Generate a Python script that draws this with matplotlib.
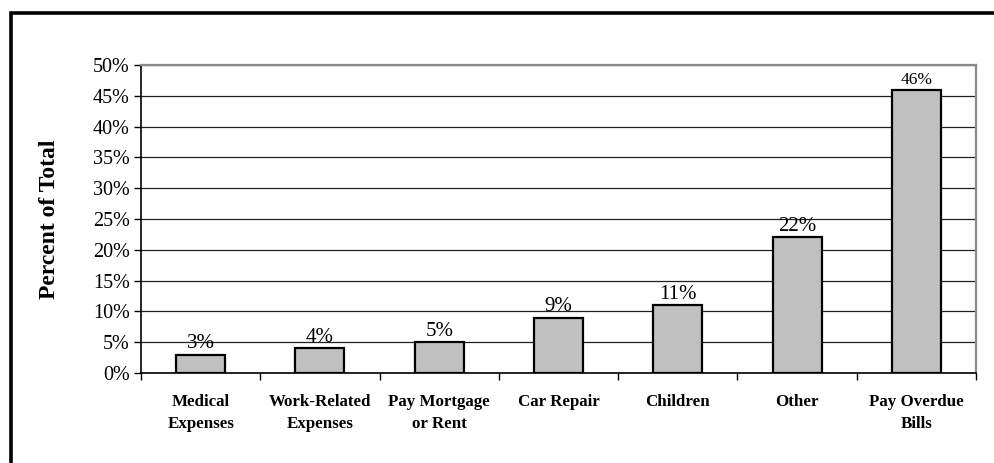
import matplotlib
matplotlib.use("Agg")
import matplotlib.pyplot as plt
from matplotlib.patches import Rectangle

categories = ["Medical\nExpenses", "Work-Related\nExpenses", "Pay Mortgage\nor Rent",
              "Car Repair", "Children", "Other", "Pay Overdue\nBills"]
values = [3, 4, 5, 9, 11, 22, 46]
value_labels = ["3%", "4%", "5%", "9%", "11%", "22%", "46%"]
label_sizes = [15, 15, 15, 15, 15, 15, 12.5]
yticks = [0, 5, 10, 15, 20, 25, 30, 35, 40, 45, 50]

plt.rcParams["font.family"] = ["Liberation Serif", "DejaVu Serif"]

fig = plt.figure(figsize=(9.95, 4.63), dpi=100)
ax = fig.add_axes([0.1417, 0.1944, 0.8393, 0.6652])

x = list(range(len(categories)))
ax.bar(x, values, width=0.41, color="#C0C0C0", edgecolor="black", linewidth=1.6, zorder=3)
for xi, v, lab, fs in zip(x, values, value_labels, label_sizes):
    ax.annotate(lab, (xi, v), xytext=(0, 1), textcoords="offset points",
                ha="center", va="bottom", fontsize=fs, zorder=4)

ax.set_xlim(-0.5, len(categories) - 0.5)
ax.set_ylim(0, 50)
ax.set_yticks(yticks)
ax.set_yticklabels([f"{t}%" for t in yticks], fontsize=14.5)
ax.yaxis.grid(True, color="#202020", linewidth=0.9, zorder=0)
ax.set_axisbelow(True)

ax.set_xticks(x)
ax.set_xticklabels(categories, fontsize=12.2, fontweight="bold", linespacing=1.5)
ax.set_xticks([i - 0.5 for i in range(len(categories) + 1)], minor=True)
ax.tick_params(axis="x", which="major", length=0, pad=15)
ax.tick_params(axis="x", which="minor", length=5, width=1, direction="out")
ax.tick_params(axis="y", length=5, width=1, direction="out", pad=3)

for s in ["left", "bottom"]:
    ax.spines[s].set_color("black")
    ax.spines[s].set_linewidth(1.2)
for s in ["top", "right"]:
    ax.spines[s].set_color("#8a8a8a")
    ax.spines[s].set_linewidth(1.6)

ax.set_ylabel("Percent of Total", fontsize=17, fontweight="bold", labelpad=24)

# outer frame
fig.patches.append(Rectangle((11 / 995, -0.1), 1.2, (463 - 13) / 463 + 0.1,
                             transform=fig.transFigure, fill=False,
                             edgecolor="black", linewidth=2.6))

fig.savefig("out.png", dpi=100)
